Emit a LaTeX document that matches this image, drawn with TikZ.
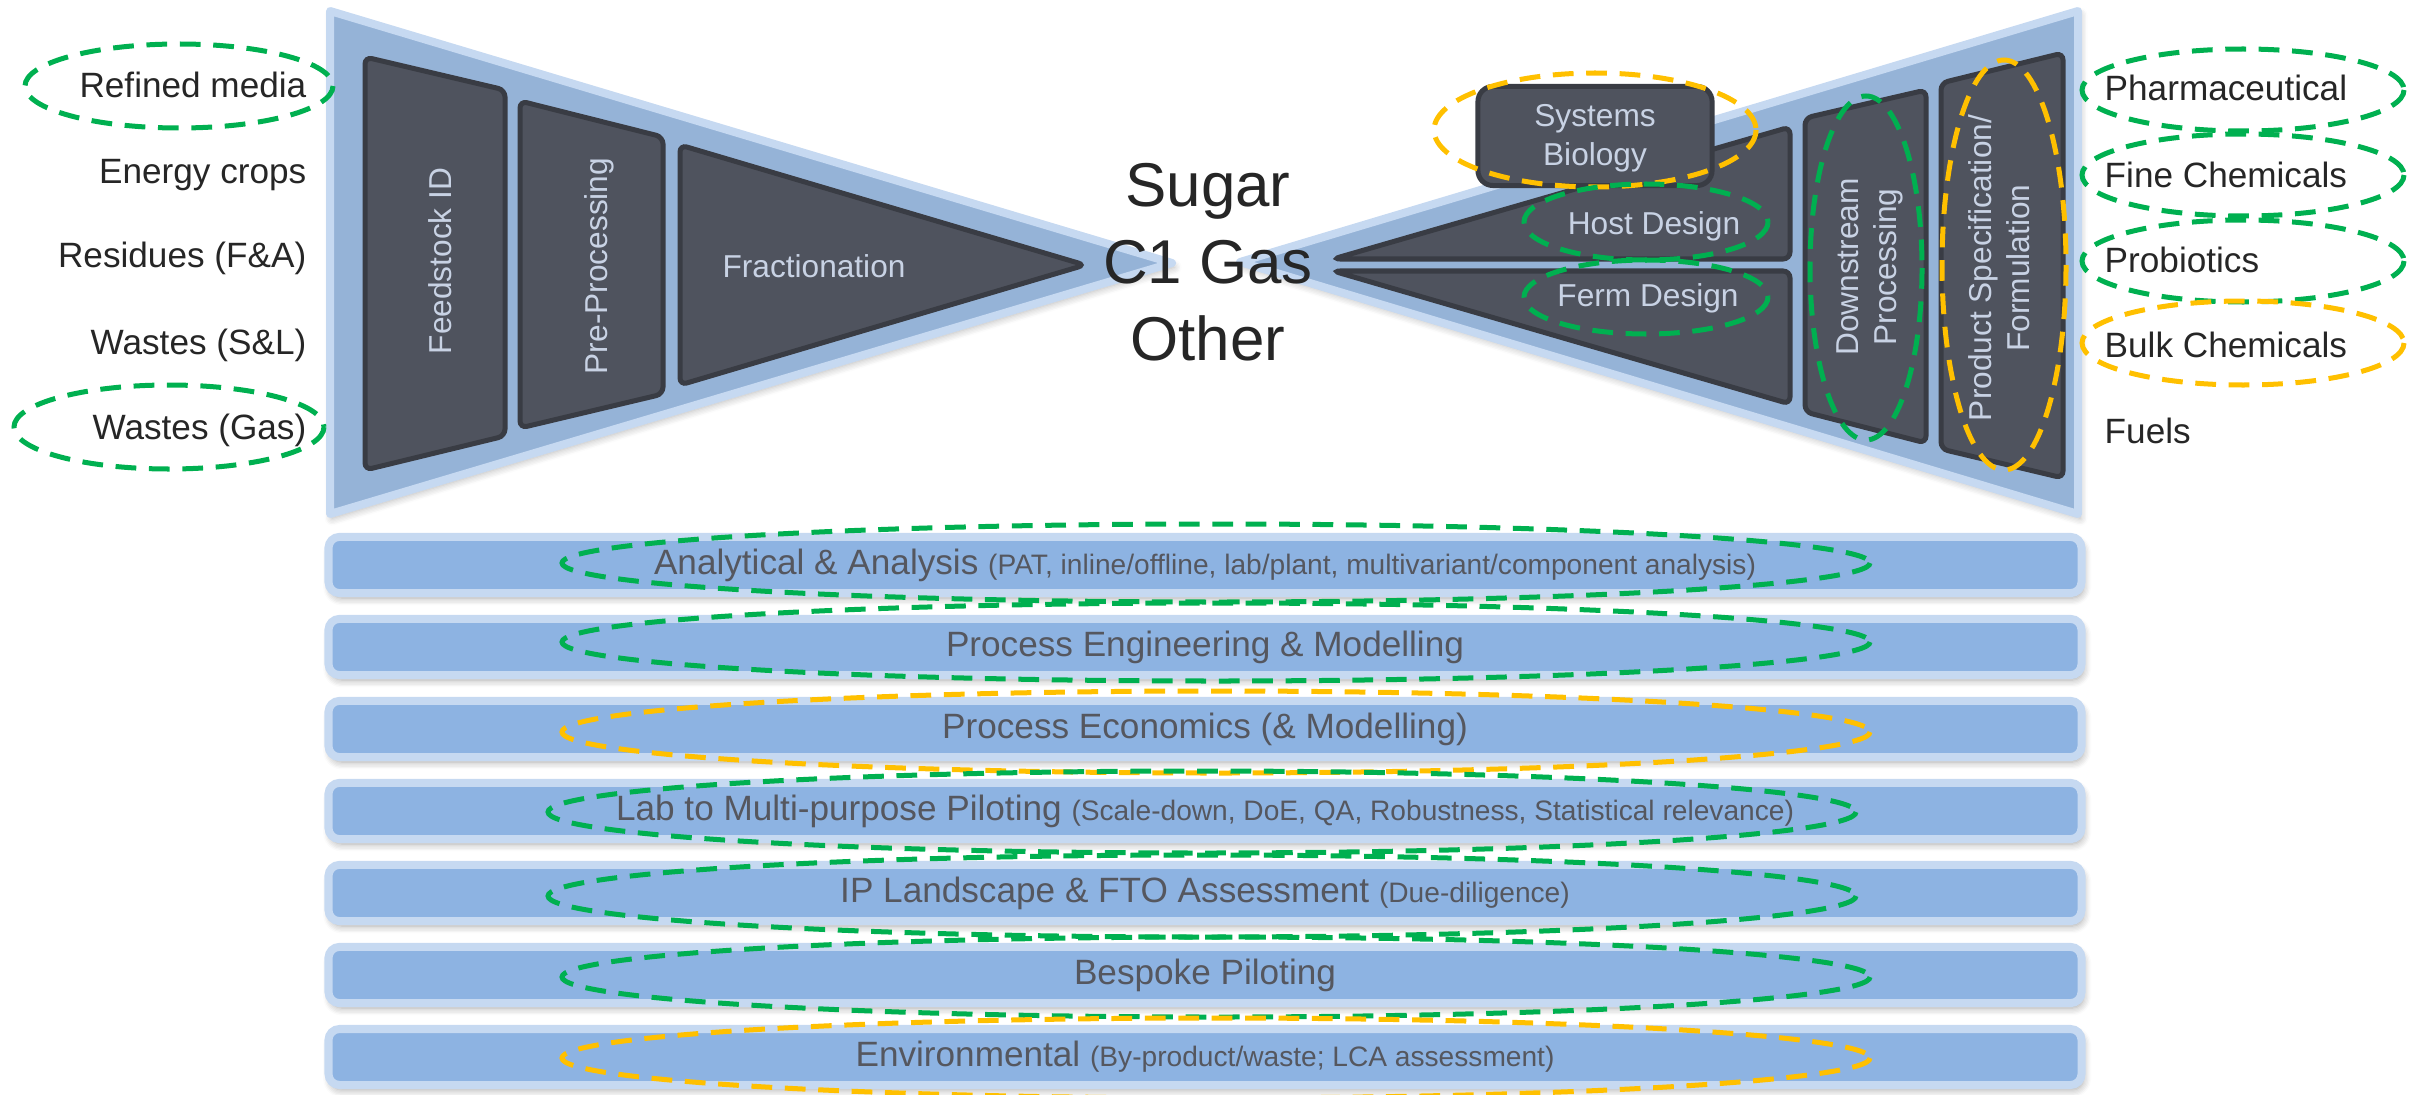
\documentclass[tikz,border=0pt]{standalone}
\usepackage{fontspec}
\setmainfont{Liberation Sans}
\usetikzlibrary{shadows.blur}
\definecolor{paleblue}{HTML}{C6D9F1}
\definecolor{midblue}{HTML}{95B3D7}
\definecolor{barblue}{HTML}{8DB3E2}
\definecolor{darkbox}{HTML}{4F535E}
\definecolor{darkedge}{HTML}{393C44}
\definecolor{boxtext}{HTML}{C8D2E4}
\definecolor{bartext}{HTML}{55575F}
\definecolor{bigtext}{HTML}{262626}
\definecolor{ringgreen}{HTML}{00B050}
\definecolor{ringyellow}{HTML}{FFC000}
\newcommand{\smalltxt}[1]{{\fontsize{8pt}{10pt}\selectfont #1}}
\tikzset{
  funnel/.style={draw=paleblue, line width=0.08cm, line join=round, fill=midblue,
    blur shadow={shadow xshift=0.6pt, shadow yshift=-1.2pt, shadow blur steps=6, shadow opacity=30}},
  block/.style={draw=darkedge, line width=0.05cm, fill=darkbox, rounded corners=2pt},
  blocktext/.style={text=boxtext, font=\fontsize{9pt}{11pt}\selectfont, align=center, inner sep=0pt},
  band/.style={draw=paleblue, line width=0.08cm, fill=barblue, rounded corners=0.11cm,
    minimum width=17.52cm, minimum height=0.56cm, text=bartext, font=\fontsize{10pt}{12pt}\selectfont,
    blur shadow={shadow xshift=0.6pt, shadow yshift=-1.4pt, shadow blur steps=6, shadow opacity=35}},
  inlab/.style={anchor=base east, inner sep=0pt, text=bigtext, font=\fontsize{10pt}{12pt}\selectfont},
  outlab/.style={anchor=base west, inner sep=0pt, text=bigtext, font=\fontsize{10pt}{12pt}\selectfont},
  gring/.style={draw=ringgreen, line width=0.05cm, dash pattern=on 5.9pt off 3.6pt},
  yring/.style={draw=ringyellow, line width=0.05cm, dash pattern=on 5.9pt off 3.6pt},
}
\begin{document}
\begin{tikzpicture}[x=0.01cm, y=-0.01cm]
\useasboundingbox (0,0) rectangle (2428,1094);
%FUNNELS
\draw[funnel] (330,11) -- (1172,263) -- (330,514) -- cycle;
\draw[funnel] (1240,262) -- (2078,11) -- (2078,514) -- cycle;
%LEFT BLOCKS
\draw[block] (365,57) -- (505,90) -- (505,436) -- (365,470) -- cycle;
\draw[block] (520,101) -- (663,137) -- (663,394) -- (520,428) -- cycle;
\draw[block] (680,145) -- (1085,265) -- (680,385) -- cycle;
\node[blocktext, rotate=90] (feed) at (440,261) {Feedstock ID};
\node[blocktext, rotate=90] (prep) at (599,266) {Pre-Processing};
\node[blocktext] (frac) at (814,266) {Fractionation};
%RIGHT BLOCKS
\draw[block] (1333,259) -- (1790,127) -- (1790,259) -- cycle;
\draw[block] (1333,271) -- (1790,271) -- (1790,404) -- cycle;
\draw[block] (1805,118) -- (1926,90) -- (1926,443) -- (1805,412) -- cycle;
\draw[block] (1941,83) -- (2063,53) -- (2063,478) -- (1941,449) -- cycle;
\node[block, minimum width=2.34cm, minimum height=0.99cm, rounded corners=0.15cm] (sysbox) at (1595,136) {};
\node[blocktext] (sysbio) at (1595,138) {Systems\\Biology};
\node[blocktext] (host) at (1654,226) {Host Design};
\node[blocktext] (ferm) at (1648,298) {Ferm Design};
\node[blocktext, rotate=90] (dsp) at (1870,267) {Downstream\\Processing};
\node[blocktext, rotate=90] (spec) at (1999,268) {Product Specification/\\Formulation};
%CENTRE
\node[text=bigtext, align=center, inner sep=0pt, font=\fontsize{17.6pt}{21.9pt}\selectfont] (carbon) at (1208,262) {Sugar\\C1 Gas\\Other};
%INPUTS
\node[inlab] (media) at (307,98) {Refined media};
\node[inlab] (crops) at (307,183) {Energy crops};
\node[inlab] (resid) at (307,268) {Residues (F\&A)};
\node[inlab] (wsl) at (307,354) {Wastes (S\&L)};
\node[inlab] (wgas) at (307,439) {Wastes (Gas)};
%OUTPUTS
\node[outlab] (pharma) at (2104,101) {Pharmaceutical};
\node[outlab] (fine) at (2104,187) {Fine Chemicals};
\node[outlab] (probio) at (2104,272) {Probiotics};
\node[outlab] (bulk) at (2104,357) {Bulk Chemicals};
\node[outlab] (fuels) at (2104,443) {Fuels};
%BANDS
\node[band] (anal) at (1205,565) {Analytical \& Analysis \smalltxt{(PAT, inline/offline, lab/plant, multivariant/component analysis)}};
\node[band] (eng) at (1205,647) {Process Engineering \& Modelling};
\node[band] (econ) at (1205,729) {Process Economics (\& Modelling)};
\node[band] (pilot) at (1205,811) {Lab to Multi-purpose Piloting \smalltxt{(Scale-down, DoE, QA, Robustness, Statistical relevance)}};
\node[band] (ipfto) at (1205,893) {IP Landscape \& FTO Assessment \smalltxt{(Due-diligence)}};
\node[band] (bespoke) at (1205,975) {Bespoke Piloting};
\node[band] (env) at (1205,1057) {Environmental \smalltxt{(By-product/waste; LCA assessment)}};
%RINGS
\draw[gring] (179,86) ellipse (154 and 42);
\draw[gring] (169,427) ellipse (155 and 42);
\draw[yring] (1595,130) ellipse (161 and 57);
\draw[gring] (1646,222) ellipse (122 and 38);
\draw[gring] (1646,297) ellipse (122 and 37);
\draw[gring] (1866,268) ellipse (56 and 172);
\draw[yring] (2004,265) ellipse (62 and 205);
\draw[gring] (2243,90) ellipse (161 and 41);
\draw[gring] (2243,175) ellipse (161 and 41);
\draw[gring] (2243,261) ellipse (161 and 41);
\draw[yring] (2243,343) ellipse (161 and 42);
\draw[gring] (1216,563) ellipse (654 and 39);
\draw[gring] (1216,642) ellipse (654 and 39);
\draw[yring] (1216,732) ellipse (654 and 41);
\draw[gring] (1202,812) ellipse (654 and 41);
\draw[gring] (1202,896) ellipse (654 and 41);
\draw[gring] (1216,977) ellipse (654 and 40);
\draw[yring] (1216,1058) ellipse (654 and 40);
\end{tikzpicture}
\end{document}
